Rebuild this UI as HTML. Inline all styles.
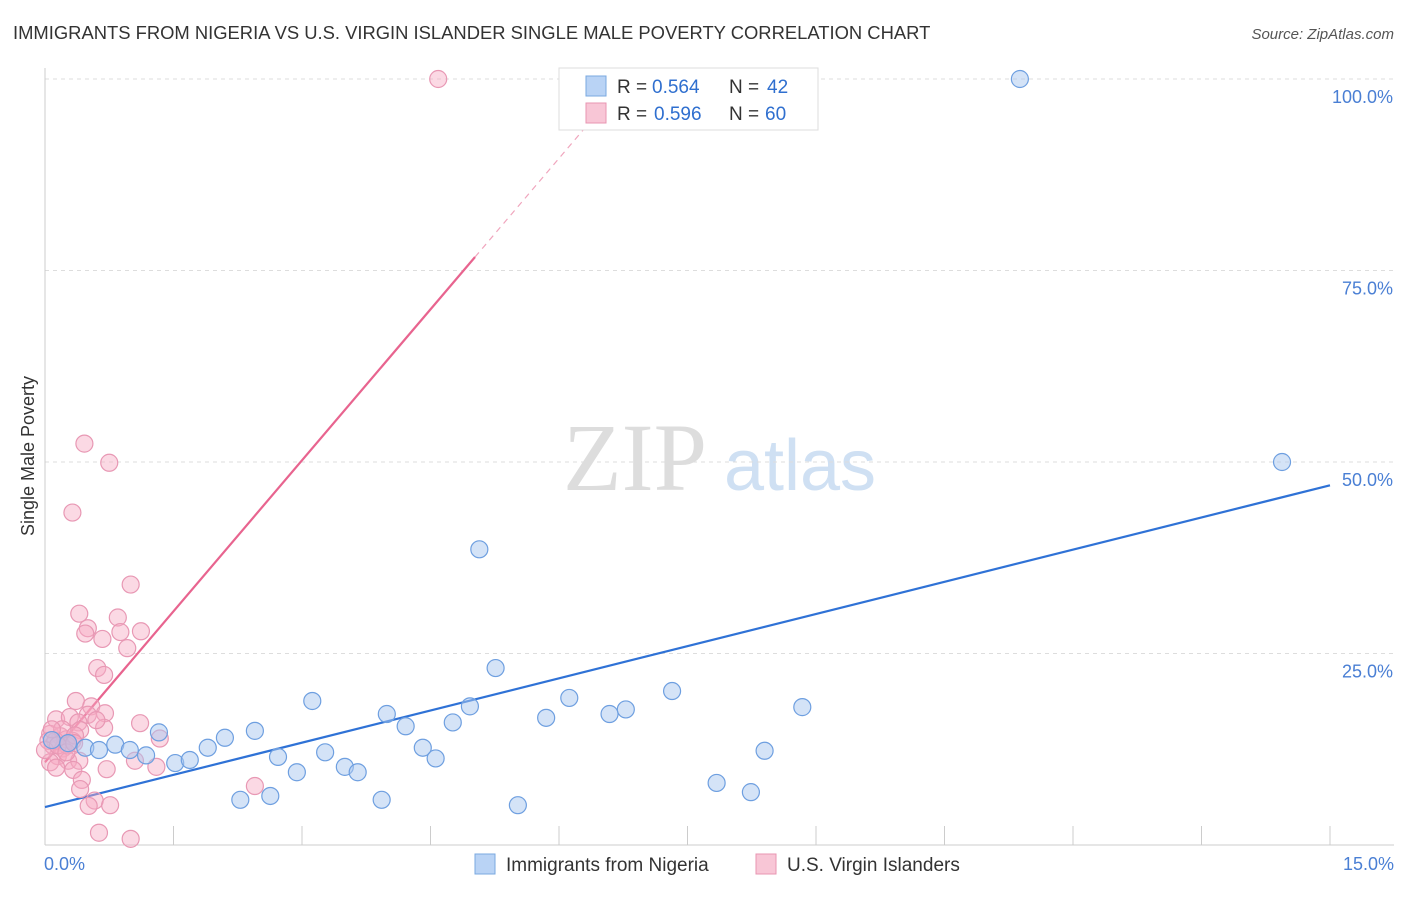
<!DOCTYPE html>
<html><head><meta charset="utf-8"><style>
body{margin:0;background:#fff;font-family:"Liberation Sans",sans-serif;}
</style></head><body>
<svg id="chart" width="1406" height="892" xmlns="http://www.w3.org/2000/svg" font-family="Liberation Sans, sans-serif">
<text x="13" y="39" font-size="18.4" fill="#333">IMMIGRANTS FROM NIGERIA VS U.S. VIRGIN ISLANDER SINGLE MALE POVERTY CORRELATION CHART</text>
<text x="1394" y="39" font-size="15" fill="#555" text-anchor="end" font-style="italic">Source: ZipAtlas.com</text>
<text transform="translate(34,456) rotate(-90)" font-size="18" fill="#333" text-anchor="middle">Single Male Poverty</text>
<g>
<text x="635" y="490" font-size="96" font-family="Liberation Serif, serif" fill="#ddd" text-anchor="middle">ZIP</text>
<text x="800" y="490" font-size="72" fill="#cfe0f3" text-anchor="middle">atlas</text>
</g>
<g id="grid"></g><g id="axes"></g><g id="lines"></g><g id="pts"></g>
<g>
<rect x="559" y="68" width="259" height="62" fill="#fff" stroke="#ddd"/>
<rect x="586" y="76" width="20" height="20" fill="#b9d3f5" stroke="#7aa8e0"/>
<text x="617" y="93" font-size="19" fill="#333">R =</text>
<text x="652" y="93" font-size="19" fill="#2f6fcf">0.564</text>
<text x="729" y="93" font-size="19" fill="#333">N =</text>
<text x="767" y="93" font-size="19" fill="#2f6fcf">42</text>
<rect x="586" y="103" width="20" height="20" fill="#f8c6d6" stroke="#e895b2"/>
<text x="617" y="120" font-size="19" fill="#333">R =</text>
<text x="654" y="120" font-size="19" fill="#2f6fcf">0.596</text>
<text x="729" y="120" font-size="19" fill="#333">N =</text>
<text x="765" y="120" font-size="19" fill="#2f6fcf">60</text>
</g>
<g>
<rect x="475" y="854" width="20" height="20" fill="#b9d3f5" stroke="#7aa8e0"/>
<text x="506" y="871" font-size="19" fill="#333">Immigrants from Nigeria</text>
<rect x="756" y="854" width="20" height="20" fill="#f8c6d6" stroke="#e895b2"/>
<text x="787" y="871" font-size="19" fill="#333">U.S. Virgin Islanders</text>
</g>
</svg>
<script>
const yTicks=[25,50,75,100];
const yTickLabels=["25.0%","50.0%","75.0%","100.0%"];
const xTicks=[0,1.5,3,4.5,6,7.5,9,10.5,12,13.5,15];
const xEndLabels=["0.0%","15.0%"];
const blueX=[0.08,0.27,0.47,0.63,0.82,0.99,1.18,1.33,1.52,1.69,1.90,2.10,2.28,2.45,2.63,2.72,2.94,3.12,3.27,3.50,3.65,3.93,3.99,4.21,4.41,4.56,4.76,4.96,5.07,5.26,5.52,5.85,6.12,6.59,6.78,7.32,7.84,8.24,8.40,8.84,11.38,14.44];
const blueY=[13.7,13.3,12.7,12.4,13.1,12.4,11.7,14.7,10.7,11.1,12.7,14.0,5.9,14.9,6.4,11.5,9.5,18.8,12.1,10.2,9.5,5.9,17.1,15.5,12.7,11.3,16.0,18.1,38.6,23.1,5.2,16.6,19.2,17.1,17.7,20.1,8.1,6.9,12.3,18.0,100,50.0];
const pinkX=[4.59,0.46,0.75,0.32,1.00,0.40,0.85,0.50,0.88,1.12,0.47,0.67,0.96,0.61,0.69,0.36,0.54,0.50,0.70,0.13,0.29,0.39,1.11,0.69,0.41,0.06,0.18,0.25,0.32,0.09,0.21,0.15,0.27,0.06,0.40,1.05,0.13,0.33,0.72,1.30,0.43,0.41,2.45,0.58,0.51,0.76,0.63,1.00,1.34,0.04,0.12,0.20,0.26,0.35,0.60,0.0,0.08,0.15,0.25,0.34];
const pinkY=[100,52.4,49.9,43.4,34.0,30.2,29.7,28.3,27.8,27.9,27.6,26.9,25.7,23.1,22.2,18.8,18.1,17.0,17.2,16.4,16.7,16.0,15.9,15.3,15.0,14.5,14.2,13.8,13.6,13.0,12.6,11.6,11.0,10.8,11.0,11.0,10.1,9.8,9.9,10.2,8.5,7.3,7.7,5.8,5.1,5.2,1.6,0.8,13.9,13.6,13.6,15.1,13.0,14.3,16.3,12.4,15.1,13.0,12.1,13.3];
const blueLine=[4.96,46.96];
const pinkIntercept=10.8, pinkSlope=13.14, pinkSolidEnd=5.02, pinkDashEnd=6.3;

const NS="http://www.w3.org/2000/svg";
const X=v=>45+v*(1285/15), Y=v=>845-v*(766/100);
function mk(tag,attrs,parent){const e=document.createElementNS(NS,tag);for(const k in attrs)e.setAttribute(k,attrs[k]);document.getElementById(parent).appendChild(e);return e;}
yTicks.forEach((t,i)=>{
 const g=mk('line',{x1:45,x2:1394,y1:Y(t),y2:Y(t),stroke:'#ddd','stroke-dasharray':'4,4'},'grid');
 
 
 const l=mk('text',{x:1393,y:Y(t)+24,'font-size':18,fill:'#4a7fd4','text-anchor':'end'},'axes');
 l.textContent=yTickLabels[i];
 
 
});
const ax=mk('line',{x1:45,x2:1394,y1:845,y2:845,stroke:'#ccc'},'axes');


const ay=mk('line',{x1:45,x2:45,y1:68,y2:845,stroke:'#ccc'},'axes');


xTicks.forEach(t=>{
 const k=mk('line',{x1:X(t),x2:X(t),y1:826,y2:845,stroke:'#ccc'},'axes');
 
 
});
[[0,'start',44],[15,'end',1394]].forEach((d,i)=>{
 const l=mk('text',{x:d[2],y:870,'font-size':18,fill:'#4a7fd4','text-anchor':d[1]},'axes');
 l.textContent=xEndLabels[i];
 
 
});
const bl=mk('line',{x1:X(0),y1:Y(blueLine[0]),x2:X(15),y2:Y(blueLine[1]),stroke:'#2f72d6','stroke-width':2.2},'lines');


const pl=mk('line',{x1:X(0),y1:Y(pinkIntercept),x2:X(pinkSolidEnd),y2:Y(pinkIntercept+pinkSlope*pinkSolidEnd),stroke:'#e8648f','stroke-width':2.2},'lines');


const pd=mk('line',{x1:X(pinkSolidEnd),y1:Y(pinkIntercept+pinkSlope*pinkSolidEnd),x2:X(pinkDashEnd),y2:Y(pinkIntercept+pinkSlope*pinkDashEnd),stroke:'#f0a5bd','stroke-width':1.2,'stroke-dasharray':'6,5'},'lines');


pinkX.forEach((x,i)=>{
 const c=mk('circle',{cx:X(x),cy:Y(pinkY[i]),r:8.5,fill:'rgba(246,170,195,0.45)',stroke:'#e898b4','stroke-width':1.2},'pts');
 
 
});
blueX.forEach((x,i)=>{
 const c=mk('circle',{cx:X(x),cy:Y(blueY[i]),r:8.5,fill:'rgba(170,200,240,0.5)',stroke:'#6e9fe0','stroke-width':1.2},'pts');
 
 
});
</script>
</body></html>
